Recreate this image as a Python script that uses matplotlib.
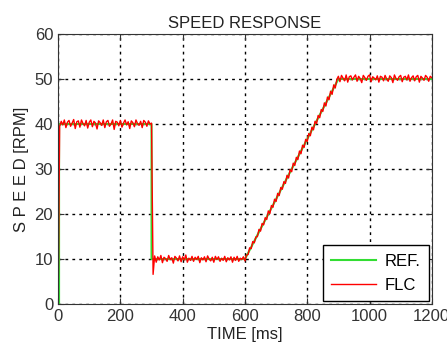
import numpy as np
import matplotlib
matplotlib.use("Agg")
import matplotlib.pyplot as plt

plt.rcParams['font.family'] = ['Liberation Sans', 'DejaVu Sans']

# reference speed profile (breakpoints)
ref_t = [0, 3, 3, 300, 300, 600, 900, 1200]
ref_v = [0, 0, 40, 40, 10, 10, 50, 50]

# FLC measured speed, one sample every 5 ms (0 .. 1200 ms)
flc_v = [
    0.0, 39.5, 40.6, 39.8, 40.9, 39.2, 40.4, 40.8, 39.5, 40.2,
    41.0, 39.0, 40.5, 40.7, 39.3, 40.9, 40.1, 39.6, 40.8, 39.1,
    40.4, 40.9, 39.4, 40.6, 40.2, 38.9, 40.7, 40.3, 39.7, 40.9,
    39.2, 40.5, 40.8, 39.5, 40.0, 40.9, 38.8, 40.6, 40.4, 39.6,
    40.8, 39.3, 40.2, 40.9, 39.8, 40.5, 39.0, 40.7, 40.3, 39.4,
    40.9, 40.1, 39.7, 40.6, 39.2, 40.8, 40.4, 39.5, 40.7, 40.0,
    40.2, 6.6, 10.7, 9.3, 10.5, 9.8, 10.8, 9.2, 10.4, 10.1,
    9.5, 10.8, 9.9, 10.3, 9.1, 10.6, 10.2, 9.6, 10.7, 9.4,
    10.5, 9.8, 10.9, 9.3, 10.2, 9.7, 10.6, 9.5, 10.4, 9.9,
    10.6, 9.2, 10.3, 9.8, 10.5, 9.4, 10.7, 10.0, 9.6, 10.4,
    9.3, 10.6, 9.9, 10.5, 9.5, 10.2, 9.7, 10.6, 9.4, 10.3,
    9.8, 10.5, 9.3, 10.4, 9.7, 10.6, 9.5, 10.2, 9.9, 10.5,
    9.6, 10.9, 11.0, 12.5, 12.3, 13.9, 13.6, 14.9, 15.0, 16.6,
    16.2, 17.9, 17.6, 19.2, 18.8, 20.7, 20.1, 21.9, 21.5, 23.3,
    22.8, 24.6, 24.1, 25.9, 25.5, 27.2, 26.8, 28.6, 28.0, 29.9,
    29.4, 31.3, 30.8, 32.6, 32.1, 34.0, 33.4, 35.3, 34.8, 36.6,
    36.1, 37.9, 37.4, 39.3, 38.7, 40.6, 40.1, 41.9, 41.4, 43.2,
    42.8, 44.7, 44.0, 46.0, 45.4, 47.3, 46.6, 48.7, 48.0, 49.9,
    50.6, 49.4, 50.8, 50.2, 49.6, 50.9, 49.3, 50.5, 50.7, 49.8,
    50.4, 50.9, 49.5, 50.6, 50.1, 49.2, 50.8, 50.3, 49.7, 50.6,
    50.9, 49.4, 50.5, 50.2, 49.8, 50.7, 49.3, 50.6, 50.4, 49.6,
    50.8, 50.0, 49.5, 50.7, 50.3, 49.2, 50.9, 50.1, 49.7, 50.5,
    50.8, 49.4, 50.4, 50.6, 49.8, 50.9, 49.5, 50.3, 50.7, 49.6,
    50.5, 50.8, 49.3, 50.6, 50.2, 49.7, 50.8, 50.4, 49.5, 50.6,
    50.3,
]
flc_t = np.arange(len(flc_v)) * 5

x_ticks = [0, 200, 400, 600, 800, 1000, 1200]
y_ticks = [0, 10, 20, 30, 40, 50, 60]

fig = plt.figure(figsize=(4.47, 3.54), dpi=100)
ax = fig.add_axes([0.130, 0.141, 0.836, 0.763])

ax.plot(ref_t, ref_v, color='#33dd33', lw=1.5, label='REF.')
ax.plot(flc_t, flc_v, color='#ff0000', lw=1.0, label='FLC')

ax.set_xlim(0, 1200)
ax.set_ylim(0, 60)
ax.set_xticks(x_ticks)
ax.set_yticks(y_ticks)
ax.grid(True, color='black', linestyle=(0, (2, 3)), linewidth=1.0)
ax.tick_params(direction='in', top=True, right=True, labelsize=12, colors='#333333', length=4)
for s in ax.spines.values():
    s.set_color('#333333')

ax.set_title('SPEED RESPONSE', fontsize=12, color='#222222', pad=4)
ax.set_xlabel('TIME [ms]', fontsize=12, color='#222222', labelpad=2)
ax.set_ylabel('S P E E D [RPM]', fontsize=12, color='#222222', labelpad=4)

leg = ax.legend(loc='lower right', bbox_to_anchor=(0.992, 0.011), borderaxespad=0,
                fancybox=False, edgecolor='black', framealpha=1, fontsize=12,
                handlelength=2.7, handletextpad=0.5, labelspacing=0.55, borderpad=0.5)
leg.get_frame().set_linewidth(1.0)

fig.savefig('out.png', dpi=100, facecolor='white')
